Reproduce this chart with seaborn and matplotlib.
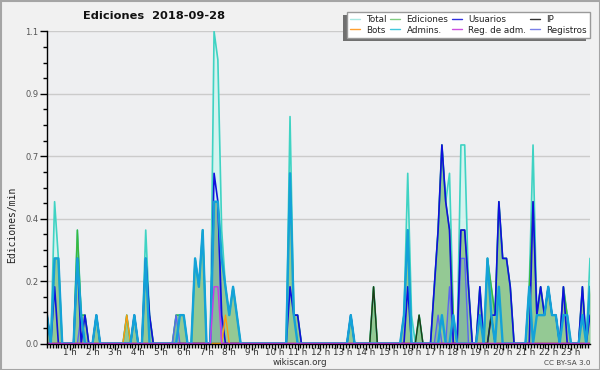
#Visualizaciones
import matplotlib
matplotlib.use('Agg')
import matplotlib.pyplot as plt
import seaborn as sns
from matplotlib.lines import Line2D
from matplotlib.patches import Rectangle
from matplotlib.ticker import MultipleLocator
import matplotlib.transforms as mtransforms

#Tratamiento de datos
import pandas as pd
import numpy as np

# Datos: (minuto del día, ediciones/min), intervalos de 10 minutos
total = [(0, 0.1), (20, 0.5), (30, 0.3), (80, 0.4), (90, 0.1), (100, 0.1), (130, 0.1),
         (210, 0.1), (230, 0.1), (260, 0.4), (270, 0.1), (340, 0.1), (350, 0.1), (360, 0.1),
         (390, 0.3), (400, 0.2), (410, 0.4), (440, 1.1), (450, 1.0), (460, 0.4), (470, 0.2),
         (480, 0.1), (490, 0.2), (500, 0.1), (640, 0.8), (650, 0.1), (660, 0.1), (800, 0.1),
         (860, 0.2), (940, 0.1), (950, 0.6), (960, 0.1), (980, 0.1), (1020, 0.2), (1030, 0.4),
         (1040, 0.7), (1050, 0.5), (1060, 0.6), (1070, 0.1), (1090, 0.7), (1100, 0.7),
         (1110, 0.2), (1140, 0.2), (1160, 0.3), (1170, 0.2), (1180, 0.1), (1190, 0.5),
         (1200, 0.3), (1210, 0.3), (1220, 0.2), (1270, 0.2), (1280, 0.7), (1290, 0.1),
         (1300, 0.2), (1310, 0.1), (1320, 0.2), (1330, 0.1), (1340, 0.1), (1360, 0.2),
         (1370, 0.1), (1410, 0.2), (1430, 0.3)]

ediciones = [(0, 0.1), (20, 0.3), (30, 0.3), (80, 0.4), (90, 0.1), (100, 0.1), (130, 0.1),
             (210, 0.1), (230, 0.1), (260, 0.3), (270, 0.1), (340, 0.1), (350, 0.1), (360, 0.1),
             (390, 0.3), (400, 0.2), (410, 0.4), (440, 0.5), (450, 0.5), (460, 0.3), (470, 0.2),
             (480, 0.1), (490, 0.2), (500, 0.1), (640, 0.6), (650, 0.1), (660, 0.1), (800, 0.1),
             (860, 0.2), (940, 0.1), (950, 0.4), (980, 0.1), (1020, 0.2), (1030, 0.4),
             (1040, 0.7), (1050, 0.5), (1060, 0.4), (1070, 0.1), (1090, 0.4), (1100, 0.4),
             (1110, 0.2), (1140, 0.2), (1160, 0.3), (1170, 0.2), (1180, 0.1), (1190, 0.5),
             (1200, 0.3), (1210, 0.3), (1220, 0.2), (1270, 0.2), (1280, 0.5), (1290, 0.1),
             (1300, 0.2), (1310, 0.1), (1320, 0.2), (1330, 0.1), (1340, 0.1), (1360, 0.2),
             (1370, 0.1), (1410, 0.2), (1430, 0.2)]

usuarios = [(0, 0.1), (20, 0.2), (80, 0.3), (100, 0.1), (130, 0.1), (230, 0.1), (260, 0.3),
            (270, 0.1), (440, 0.6), (450, 0.5), (460, 0.1), (640, 0.2), (650, 0.1), (660, 0.1),
            (800, 0.1), (950, 0.2), (1020, 0.2), (1030, 0.4), (1040, 0.7), (1050, 0.5),
            (1060, 0.4), (1090, 0.4), (1100, 0.4), (1110, 0.2), (1140, 0.2), (1170, 0.1),
            (1180, 0.1), (1190, 0.5), (1200, 0.3), (1210, 0.3), (1220, 0.2), (1280, 0.5),
            (1290, 0.1), (1300, 0.2), (1310, 0.1), (1320, 0.2), (1330, 0.1), (1340, 0.1),
            (1360, 0.2), (1410, 0.2), (1430, 0.1)]

ip = [(860, 0.2), (980, 0.1), (1170, 0.1)]

bots = [(210, 0.1), (470, 0.1)]

admins = [(0, 0.1), (20, 0.3), (30, 0.3), (80, 0.3), (90, 0.1), (130, 0.1), (230, 0.1),
          (260, 0.3), (350, 0.1), (360, 0.1), (390, 0.3), (400, 0.2), (410, 0.4), (440, 0.5),
          (450, 0.5), (460, 0.3), (470, 0.2), (480, 0.1), (490, 0.2), (500, 0.1), (640, 0.6),
          (650, 0.1), (800, 0.1), (940, 0.1), (950, 0.4), (1040, 0.1), (1070, 0.1), (1140, 0.1),
          (1160, 0.3), (1170, 0.1), (1190, 0.2), (1270, 0.2), (1290, 0.1), (1300, 0.1),
          (1310, 0.1), (1320, 0.2), (1330, 0.1), (1340, 0.1), (1360, 0.1), (1370, 0.1),
          (1410, 0.1), (1430, 0.2)]

reg_adm = [(440, 0.2), (450, 0.2)]

registros = [(90, 0.1), (340, 0.1), (440, 0.5), (450, 0.5), (1030, 0.1), (1060, 0.2),
             (1090, 0.3), (1100, 0.3)]

horas = list(range(1, 24))
y_ticks = [0.0, 0.22, 0.44, 0.66, 0.88, 1.1]
y_labels = ['0.0', '0.2', '0.4', '0.7', '0.9', '1.1']

minutos = np.arange(0, 1440, 10)


def serie(puntos):
    s = pd.Series(0.0, index=minutos)
    for m, v in puntos:
        s.loc[m] = v
    return s.values


df = pd.DataFrame({
    'minuto': minutos,
    'Total': serie(total),
    'Ediciones': serie(ediciones),
    'Usuarios': serie(usuarios),
    'IP': serie(ip),
    'Bots': serie(bots),
    'Admins.': serie(admins),
    'Reg. de adm.': serie(reg_adm),
    'Registros': serie(registros),
})

colores = {
    'Total': '#3fd3c3',
    'Ediciones': '#3cb83c',
    'Usuarios': '#1010dd',
    'IP': '#1d3a1d',
    'Bots': '#ff9a10',
    'Admins.': '#14a2d8',
    'Reg. de adm.': '#c83ae8',
    'Registros': '#5a66f0',
}
# colores más claros para la leyenda
colores_ley = {
    'Total': '#a8e8e2',
    'Ediciones': '#80cc80',
    'Usuarios': '#3030e0',
    'IP': '#333333',
    'Bots': '#ffa030',
    'Admins.': '#40c8dc',
    'Reg. de adm.': '#cc50e0',
    'Registros': '#7a80e8',
}
grosor = {'Total': 1.2, 'Ediciones': 1.0, 'Usuarios': 1.2, 'IP': 1.0, 'Bots': 1.0,
          'Admins.': 1.7, 'Reg. de adm.': 1.0, 'Registros': 1.0}
orden = {'Total': 3, 'Ediciones': 4, 'Registros': 5, 'Usuarios': 6, 'IP': 7, 'Bots': 8,
         'Admins.': 9, 'Reg. de adm.': 10}

sns.set_style('white')
plt.rcParams['font.family'] = ['DejaVu Sans']

fig = plt.figure(figsize=(6, 3.7), dpi=100)
fig.patch.set_facecolor('#f1f1f1')
ax = fig.add_axes([47 / 600, 1 - 343.5 / 370, 543 / 600, 312 / 370])
ax.set_facecolor('#eeeff1')

# Áreas
ax.fill_between(df['minuto'], df['Total'], color='#d5f3ef', lw=0, zorder=1)
ax.fill_between(df['minuto'], df['Ediciones'], color='#94c994', lw=0, zorder=2)
ax.fill_between(df['minuto'], df['Registros'], color='#5d8fb8', alpha=0.25, lw=0, zorder=2.5)

# Líneas
for col in ['Total', 'Ediciones', 'Registros', 'Usuarios', 'IP', 'Bots', 'Admins.', 'Reg. de adm.']:
    sns.lineplot(data=df, x='minuto', y=col, ax=ax, color=colores[col], lw=grosor[col],
                 zorder=orden[col], legend=False)

ax.set_xlim(0, 1430)
ax.set_ylim(0, 1.1)
ax.set_xlabel('')
ax.set_ylabel('')

# Ejes y marcas
ax.set_yticks(y_ticks)
ax.set_yticklabels(y_labels)
ax.yaxis.set_minor_locator(MultipleLocator(0.055))
ax.set_xticks([h * 60 for h in horas])
ax.set_xticklabels([f'{h} h' for h in horas])
ax.xaxis.set_minor_locator(MultipleLocator(7.5))
desplaza = mtransforms.ScaledTranslation(-3 / 100, 0, fig.dpi_scale_trans)
for lab in ax.get_xticklabels():
    lab.set_transform(lab.get_transform() + desplaza)

ax.tick_params(axis='y', which='major', length=5, width=1, color='black', labelsize=6,
               labelcolor='#555555', pad=1, direction='out', left=True)
ax.tick_params(axis='y', which='minor', length=3, width=1, color='black', left=True)
ax.tick_params(axis='x', which='major', length=4, width=1, color='black', labelsize=6.3,
               labelcolor='#333333', pad=-1, direction='out', bottom=True)
ax.tick_params(axis='x', which='minor', length=3, width=1, color='black', bottom=True)

ax.grid(axis='y', color='#cbcbcb', lw=1)
ax.grid(axis='x', visible=False)
ax.set_axisbelow(True)
for s in ['top', 'right']:
    ax.spines[s].set_visible(False)
for s in ['left', 'bottom']:
    ax.spines[s].set_color('black')
    ax.spines[s].set_linewidth(1)
    ax.spines[s].set_zorder(20)

# Textos
fig.text(154 / 600, 1 - 16 / 370, 'Ediciones  2018-09-28', ha='center', va='center',
         fontsize=8.2, fontweight='bold', color='#111111')
fig.text(12 / 600, 1 - 225 / 370, 'Ediciones/min', rotation=90, ha='center', va='center',
         fontsize=7, color='#222222', family='DejaVu Sans Mono')
fig.text(300 / 600, 1 - 362.5 / 370, 'wikiscan.org', ha='center', va='center',
         fontsize=6.3, color='#333333')
fig.text(590 / 600, 1 - 363 / 370, 'CC BY-SA 3.0', ha='right', va='center',
         fontsize=5.2, color='#444444')

# Leyenda (orden por columnas)
nombres = ['Total', 'Bots', 'Ediciones', 'Admins.', 'Usuarios', 'Reg. de adm.', 'IP', 'Registros']
handles = [Line2D([], [], color=colores_ley[n], lw=1) for n in nombres]
leg = fig.legend(handles, nombres, ncol=4, loc='upper left',
                 bbox_to_anchor=(346.7 / 600, 1 - 11.7 / 370), bbox_transform=fig.transFigure,
                 frameon=True, fancybox=False, edgecolor='#9a9a9a', facecolor='white',
                 framealpha=1, fontsize=6.3, handlelength=1.15, handletextpad=0.7,
                 columnspacing=0.4, labelspacing=0.15, borderpad=0.4, borderaxespad=0)
leg.get_frame().set_linewidth(1)
leg.set_zorder(30)
for t in leg.get_texts():
    t.set_color('#222222')

fig.canvas.draw()
bb = leg.get_window_extent()
sombra = Rectangle((bb.x0 - 4, bb.y0 - 3), bb.width, bb.height, transform=None,
                   facecolor='#707070', edgecolor='none', zorder=29)
fig.add_artist(sombra)

# Marco
fig.add_artist(Rectangle((0.5 / 600, 0.5 / 370), 599 / 600, 369 / 370, transform=fig.transFigure,
                         facecolor='none', edgecolor='#a5a5a5', lw=1.5, zorder=40))

fig.savefig('out.png', dpi=100, facecolor=fig.get_facecolor())
